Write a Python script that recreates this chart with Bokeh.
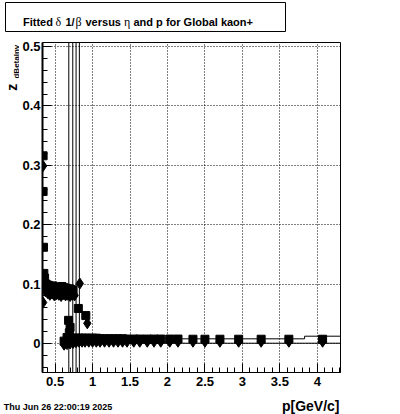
from bokeh.plotting import figure
from bokeh.layouts import column, row
from bokeh.models import Range1d, Label, BoxAnnotation, FixedTicker, NumeralTickFormatter
from bokeh.embed import file_html
from bokeh.resources import INLINE
import math

# ---------------- data ----------------
x_ticks = [0.5, 1.0, 1.5, 2.0, 2.5, 3.0, 3.5, 4.0]
x_minor = [0.4, 0.5, 0.6, 0.7, 0.8, 0.9, 1.0, 1.1, 1.2, 1.3, 1.4, 1.5, 1.6, 1.7, 1.8, 1.9, 2.0,
           2.1, 2.2, 2.3, 2.4, 2.5, 2.6, 2.7, 2.8, 2.9, 3.0, 3.1, 3.2, 3.3, 3.4, 3.5, 3.6, 3.7,
           3.8, 3.9, 4.0, 4.1, 4.2, 4.3]
y_ticks = [0.0, 0.1, 0.2, 0.3, 0.4, 0.5]
y_minor = [-0.04, -0.02, 0.0, 0.02, 0.04, 0.06, 0.08, 0.1, 0.12, 0.14, 0.16, 0.18, 0.2, 0.22,
           0.24, 0.26, 0.28, 0.3, 0.32, 0.34, 0.36, 0.38, 0.4, 0.42, 0.44, 0.46, 0.48, 0.5]

# low-momentum squares
sq_low_p = [0.34, 0.34, 0.345, 0.35, 0.36, 0.38, 0.41, 0.44, 0.47, 0.50, 0.53, 0.56, 0.59,
            0.62, 0.65, 0.68, 0.71, 0.74, 0.68, 0.70, 0.69, 0.81, 0.91]
sq_low_y = [0.316, 0.256, 0.162, 0.118, 0.110, 0.100, 0.098, 0.096, 0.097, 0.094, 0.095, 0.093, 0.096,
            0.094, 0.093, 0.092, 0.091, 0.090, 0.039, 0.027, 0.018, 0.059, 0.047]
# low-momentum diamonds
dm_low_p = [0.34, 0.34, 0.35, 0.37, 0.40, 0.43, 0.46, 0.49, 0.52, 0.55, 0.58, 0.61, 0.64,
            0.67, 0.70, 0.73, 0.76, 0.83, 0.93, 0.62]
dm_low_y = [0.299, 0.069, 0.112, 0.088, 0.085, 0.082, 0.084, 0.081, 0.083, 0.082, 0.080, 0.083, 0.081,
            0.082, 0.080, 0.082, 0.081, 0.101, 0.034, -0.001]

# band near zero
band_p = [0.62, 0.66, 0.70, 0.74, 0.78, 0.82, 0.86, 0.90, 0.95, 1.00,
          1.05, 1.10, 1.16, 1.22, 1.28, 1.34, 1.40, 1.46, 1.55, 1.63,
          1.73, 1.82, 1.91, 2.03, 2.14, 2.34, 2.50, 2.70, 2.95, 3.25,
          3.62, 4.07]
sq_band_y = [0.004, 0.010, 0.010, 0.009, 0.009, 0.009, 0.009, 0.009, 0.009, 0.009,
             0.009, 0.008, 0.008, 0.008, 0.008, 0.008, 0.008, 0.0075, 0.0075, 0.0075,
             0.0075, 0.0075, 0.0075, 0.0075, 0.0075, 0.0072, 0.0072, 0.0072, 0.0072, 0.0072,
             0.0072, 0.0072]
dm_band_y = [-0.002, -0.001, 0.000, 0.001, 0.002, 0.003, 0.003, 0.003, 0.003, 0.003,
             0.003, 0.003, 0.003, 0.003, 0.003, 0.003, 0.003, 0.003, 0.003, 0.003,
             0.003, 0.003, 0.003, 0.003, 0.003, 0.003, 0.003, 0.003, 0.003, 0.003,
             0.003, 0.003]

# points with very large error bars (vertical lines)
big_err_p = [0.683, 0.736, 0.780, 0.824]

# histogram outlines
hist_edges = [0.60, 3.83, 4.33]
hist_upper = [0.0079, 0.0123]
hist_lower = [0.0005, 0.0005]

# ---------------- main figure ----------------
LW = 19                      # left strip width
MW, MH = 400 - LW, 362
X0, X1 = 0.332, 4.309
Y0, Y1 = -0.0488, 0.5067

p = figure(width=MW, height=MH, output_backend="svg", toolbar_location=None,
           x_range=Range1d(X0, X1), y_range=Range1d(Y0, Y1),
           min_border_left=21, min_border_right=60, min_border_top=8, min_border_bottom=24)
p.background_fill_color = "white"
p.border_fill_color = "white"
p.outline_line_color = "black"
p.outline_line_width = 1

for ax, tk, mn in ((p.xaxis[0], x_ticks, x_minor), (p.yaxis[0], y_ticks, y_minor)):
    ax.ticker = FixedTicker(ticks=tk, minor_ticks=mn)
    ax.formatter = NumeralTickFormatter(format="0.[0]")
    ax.axis_line_color = "black"
    ax.major_tick_line_color = "black"
    ax.minor_tick_line_color = "black"
    ax.major_tick_in = 9
    ax.major_tick_out = 0
    ax.minor_tick_in = 5
    ax.minor_tick_out = 0
    ax.major_label_text_font = "Liberation Sans"
    ax.major_label_text_font_style = "bold"
    ax.major_label_text_font_size = "13px"
    ax.major_label_text_color = "black"
p.yaxis[0].axis_line_width = 2
p.xaxis[0].major_label_standoff = 4
p.yaxis[0].major_label_standoff = 2

for g in (p.xgrid[0], p.ygrid[0]):
    g.grid_line_color = "black"
    g.grid_line_dash = "1 2"
    g.grid_line_width = 1

p.segment(x0=big_err_p, y0=[-1.0] * len(big_err_p), x1=big_err_p, y1=[1.0] * len(big_err_p),
          line_color="black", line_width=1)
p.step(x=hist_edges, y=hist_upper + hist_upper[-1:], mode="after", line_color="black", line_width=1)
p.step(x=hist_edges, y=hist_lower + hist_lower[-1:], mode="after", line_color="black", line_width=1)

p.scatter(x=sq_low_p + band_p, y=sq_low_y + sq_band_y, marker="square", size=8,
          fill_color="black", line_color="black")
p.scatter(x=dm_low_p + band_p, y=dm_low_y + dm_band_y, marker="diamond", size=11,
          fill_color="black", line_color="black")

# ---------------- text strips (coordinates = page pixels) ----------------
def strip(w, h, x0, y0):
    f = figure(width=w, height=h, output_backend="svg", toolbar_location=None,
               x_range=Range1d(x0, x0 + w), y_range=Range1d(y0 + h, y0),
               x_axis_type=None, y_axis_type=None, min_border=0)
    f.outline_line_color = None
    f.background_fill_color = "white"
    f.border_fill_color = "white"
    return f

top = strip(400, 34, 0, 0)
top.add_layout(BoxAnnotation(left=5, right=285, top=2, bottom=31, fill_color="white", fill_alpha=1.0,
                             line_color="black", line_width=1, line_alpha=1.0))
title_parts = [
    (22.5, "Fitted", "Liberation Sans", "bold", "11px"),
    (55.0, "\u03b4", "Liberation Serif", "normal", "12px"),
    (65.0, "1/", "Liberation Sans", "bold", "11px"),
    (75.0, "\u03b2", "Liberation Serif", "normal", "12px"),
    (85.0, "versus", "Liberation Sans", "bold", "11px"),
    (123.5, "\u03b7", "Liberation Serif", "normal", "12px"),
    (133.0, "and p for Global kaon+", "Liberation Sans", "bold", "11px"),
]
for x_, t_, f_, s_, z_ in title_parts:
    top.add_layout(Label(x=x_, y=21.5, text=t_, text_font=f_, text_font_style=s_, text_font_size=z_,
                         text_align="left", text_baseline="alphabetic", text_color="black"))

left = strip(LW, MH, 0, 34)
left.add_layout(Label(x=11, y=83, text="z", angle=math.pi / 2, text_font="Liberation Sans",
                      text_font_style="bold", text_font_size="14px", text_align="center",
                      text_baseline="middle", text_color="black"))
left.add_layout(Label(x=16, y=55, text="dBetaInv", angle=math.pi / 2, text_font="Liberation Sans",
                      text_font_style="bold", text_font_size="8px", text_align="center",
                      text_baseline="middle", text_color="black"))

bottom = strip(400, 18, 0, 396)
bottom.add_layout(Label(x=3.3, y=406, text="Thu Jun 26 22:00:19 2025", text_font="Liberation Sans",
                        text_font_style="bold", text_font_size="9px", text_align="left",
                        text_baseline="alphabetic", text_color="black"))
bottom.add_layout(Label(x=339, y=405, text="p[GeV/c]", text_font="Liberation Sans",
                        text_font_style="bold", text_font_size="14px", text_align="right",
                        text_baseline="alphabetic", text_color="black"))

layout = column(top, row(left, p, spacing=0), bottom, spacing=0)
open("out.html", "w").write(file_html(layout, INLINE))
